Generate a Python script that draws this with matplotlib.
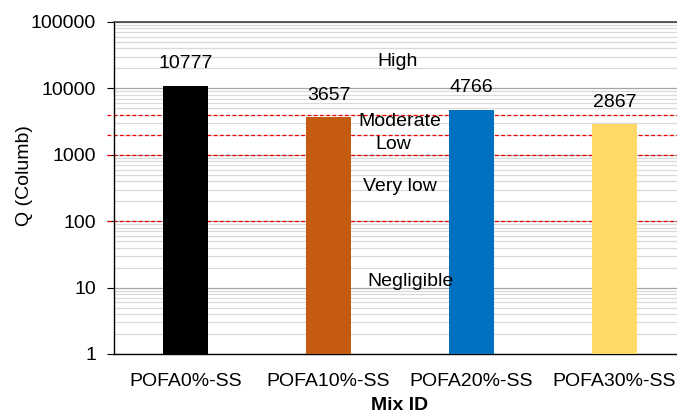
import matplotlib
matplotlib.use("Agg")
import matplotlib.pyplot as plt
from matplotlib.ticker import LogLocator, FixedLocator, FixedFormatter

mixes = ["POFA0%-SS", "POFA10%-SS", "POFA20%-SS", "POFA30%-SS"]
charge = [10777, 3657, 4766, 2867]
colors = ["#000000", "#C55A11", "#0070C0", "#FFD966"]

limits = [4000, 2000, 1000, 100]
zone_names = ["High", "Moderate", "Low", "Very low", "Negligible"]
zone_y = [25000, 3150, 1450, 330, 12.5]
zone_x = [1.48, 1.5, 1.45, 1.5, 1.57]

yticks = [1, 10, 100, 1000, 10000, 100000]

plt.rcParams["font.family"] = ["Liberation Sans", "DejaVu Sans"]
FS = 14

fig = plt.figure(figsize=(6.77, 4.17), dpi=100)
ax = fig.add_axes([114 / 677, 1 - 354 / 417, 572 / 677, 332 / 417])

x = list(range(len(mixes)))
ax.bar(x, charge, width=0.31, color=colors, zorder=3)
for xi, v in zip(x, charge):
    ax.annotate(str(v), (xi, v), xytext=(0, 10), textcoords="offset points",
                ha="center", va="bottom", fontsize=FS, zorder=4)

ax.set_yscale("log")
ax.set_ylim(1, 100000)
ax.set_xlim(-0.5, 3.5)
ax.yaxis.set_major_locator(FixedLocator(yticks))
ax.yaxis.set_major_formatter(FixedFormatter([str(t) for t in yticks]))
ax.yaxis.set_minor_locator(LogLocator(base=10, subs=range(2, 10)))
ax.yaxis.set_minor_formatter(FixedFormatter([]))
ax.grid(which="major", axis="y", color="#A6A6A6", lw=0.9, zorder=0)
ax.grid(which="minor", axis="y", color="#D9D9D9", lw=0.9, zorder=0)
ax.tick_params(axis="y", which="major", length=5, direction="out", pad=8, labelsize=FS)
ax.tick_params(axis="y", which="minor", length=0)
ax.tick_params(axis="x", length=0, pad=14, labelsize=FS)
ax.set_xticks(x)
ax.set_xticklabels(mixes)

for lim in limits:
    ax.axhline(lim, xmin=-0.013, xmax=1, color="#F00000", ls=(0, (3, 2)), lw=0.9,
               zorder=2, clip_on=False)

for name, zx, zy in zip(zone_names, zone_x, zone_y):
    ax.text(zx, zy, name, ha="center", va="center", fontsize=FS, zorder=4)

ax.spines["top"].set_color("#404040")
ax.spines["top"].set_linewidth(1.2)
ax.spines["left"].set_linewidth(1.0)
ax.spines["bottom"].set_linewidth(1.0)
ax.spines["right"].set_visible(False)

ax.set_ylabel("Q (Columb)", fontsize=FS, labelpad=0)
ax.yaxis.set_label_coords(-0.142, 0.536)
ax.set_xlabel("Mix ID", fontsize=FS, fontweight="bold", labelpad=5)

fig.savefig("out.png", dpi=100)
